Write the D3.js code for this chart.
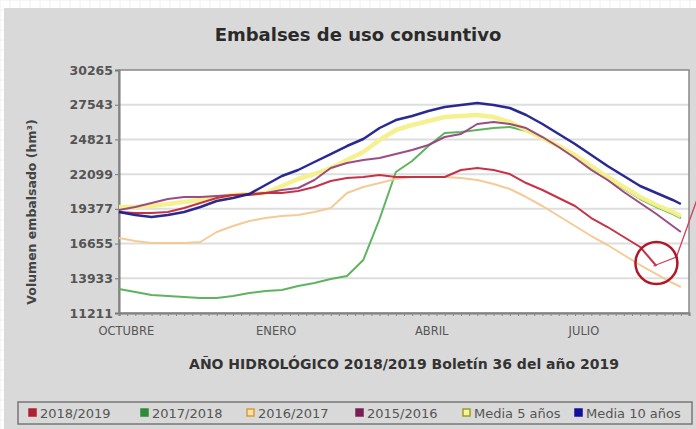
<!DOCTYPE html>
<html>
<head>
<meta charset="utf-8">
<script src="https://cdn.jsdelivr.net/npm/d3@7"></script>
<style>
  body { margin: 0; background: #fff; }
  text { font-family: "DejaVu Sans", Verdana, sans-serif; }
</style>
</head>
<body>
<svg id="chart" width="696" height="429"></svg>
<script>
// semanas del año hidrológico (índice en el eje x)
const semanas = [0,2,4,6,8,10,12,14,16,18,20,22,24,26,28,30,32,34,36,38,40,42,44,46,48,50,52,54,56,58,60,62,64,66,68,69];

const yTicks = [11211, 13933, 16655, 19377, 22099, 24821, 27543, 30265];
const meses = ["OCTUBRE", "ENERO", "ABRIL", "JULIO"];
const mesPos = [0.9, 19.3, 38.4, 57.1];

const s2018 = [19130,19052,19052,19130,19444,19836,20228,20463,20542,20620,20620,20777,21091,21561,21797,21875,22032,21875,21875,21875,21875,22424,22581,22424,22110,21404,20855,20228,19601,18660,17954,17170,16386,14896];
const s2017 = [13093,12858,12622,12544,12466,12387,12387,12544,12779,12936,13015,13328,13563,13877,14112,15367,18582,22267,23129,24305,25325,25403,25560,25717,25795,25482,24933,24227,23443,22581,21718,20934,20150,19523,18974,18660];
const s2016 = [17092,16856,16700,16700,16700,16778,17562,18033,18425,18660,18817,18895,19130,19444,20620,21091,21404,21718,21875,21875,21875,21797,21640,21326,20934,20306,19601,18817,18033,17248,16543,15759,14974,14269,13563,13250];
const s2015 = [19287,19523,19836,20150,20307,20307,20385,20463,20463,20620,20855,21012,21639,22581,22973,23208,23365,23678,23992,24384,25011,25246,26030,26187,26030,25717,25011,24227,23365,22424,21639,20698,19836,18974,18033,17562];
const media5 = [19523,19523,19601,19758,19915,20072,20228,20463,20542,20620,21169,21718,22110,22581,23208,23835,24776,25560,25952,26266,26580,26658,26736,26580,26187,25560,24933,24305,23599,22737,21874,21091,20306,19679,19130,18817];
const media10 = [19130,18895,18738,18895,19130,19523,19993,20228,20542,21247,21953,22424,23051,23678,24305,24854,25717,26344,26658,27050,27364,27521,27677,27521,27285,26736,26030,25246,24462,23599,22737,21953,21169,20620,20072,19758];

const series = [
  { name: "2018/2019", values: s2018, color: "#c3283e", width: 2, box: "#b02035", fill: "#b02035" },
  { name: "2017/2018", values: s2017, color: "#55b055", width: 2, box: "#2f8a3a", fill: "#2f8a3a" },
  { name: "2016/2017", values: s2016, color: "#f3c890", width: 2, box: "#e09a30", fill: "#f6e2b0" },
  { name: "2015/2016", values: s2015, color: "#96427e", width: 2, box: "#7a1f55", fill: "#7a1f55" },
  { name: "Media 5 años", values: media5, color: "#f4f08a", width: 4.5, box: "#98a020", fill: "#f4f4a0" },
  { name: "Media 10 años", values: media10, color: "#1e1e8c", width: 2.5, box: "#10109a", fill: "#10109a" }
];
// el amarillo va debajo
const drawOrder = [1, 4, 2, 3, 0, 5];
const legendX = [29, 141, 247, 356, 463, 575];

let svg = d3.select("#chart");

// fondo con cuadrícula tenue
let bg = svg.append("g");
bg.append("rect").attr("width", 696).attr("height", 429).attr("fill", "#fff");
for (let i = 0; i < 70; i++) {
    bg.append("line").attr("x1", i * 10).attr("x2", i * 10).attr("y1", 0).attr("y2", 429)
        .attr("stroke", "#f0f0f0").attr("stroke-width", 1);
}
for (let j = 0; j < 43; j++) {
    bg.append("line").attr("x1", 0).attr("x2", 696).attr("y1", j * 10).attr("y2", j * 10)
        .attr("stroke", "#f0f0f0").attr("stroke-width", 1);
}

// panel gris
svg.append("rect").attr("x", 4).attr("y", 8).attr("width", 700).attr("height", 430).attr("fill", "#d9d9d9");

let plotL = 119, plotR = 689, plotT = 70, plotB = 313;

let x = d3.scaleLinear().domain([0, 70]).range([plotL, plotR]);
let y = d3.scaleLinear().domain([11211, 30265]).range([plotB, plotT]);

svg.append("rect").attr("x", plotL).attr("y", plotT).attr("width", plotR - plotL).attr("height", plotB - plotT)
    .attr("fill", "#fff");

// líneas de rejilla
svg.append("g").selectAll("line").data(yTicks.slice(1, -1)).join("line")
    .attr("x1", plotL).attr("x2", plotR)
    .attr("y1", d => y(d)).attr("y2", d => y(d))
    .attr("stroke", "#dedede").attr("stroke-width", 2);

// eje y
let yAxis = svg.append("g").attr("transform", `translate(${plotL},0)`)
    .call(d3.axisLeft(y).tickValues(yTicks).tickFormat(d3.format("d")).tickSize(4).tickPadding(2));
yAxis.select(".domain").attr("stroke", "#777").attr("stroke-width", 2);
yAxis.selectAll(".tick line").attr("stroke", "#777");
yAxis.selectAll("text").attr("fill", "#555").attr("font-size", 12.5).attr("font-weight", "bold");

// eje x con marcas pequeñas
let xAxis = svg.append("g").attr("transform", `translate(0,${plotB})`)
    .call(d3.axisBottom(x).tickValues(d3.range(0, 71)).tickFormat("").tickSize(3));
xAxis.select(".domain").attr("stroke", "#777").attr("stroke-width", 2);
xAxis.selectAll(".tick line").attr("stroke", "#888");

svg.append("g").selectAll("text").data(meses).join("text")
    .attr("x", (d, i) => x(mesPos[i]))
    .attr("y", 335)
    .attr("text-anchor", "middle")
    .attr("font-size", 11.5)
    .attr("fill", "#555")
    .text(d => d);

// borde del área de trazado
svg.append("rect").attr("x", plotL).attr("y", plotT).attr("width", plotR - plotL).attr("height", plotB - plotT)
    .attr("fill", "none").attr("stroke", "#888").attr("stroke-width", 1.5);

// series
let line = d3.line()
    .x((d, i) => x(semanas[i]))
    .y(d => y(d));

drawOrder.forEach(k => {
    let s = series[k];
    svg.append("path")
        .attr("d", line(s.values))
        .attr("fill", "none")
        .attr("stroke", s.color)
        .attr("stroke-width", s.width)
        .attr("stroke-linejoin", "round")
        .attr("opacity", 0.95);
});

// círculo rojo sobre el último dato
let ultimo = s2018.length - 1;
let cx = x(semanas[ultimo]), cy = y(s2018[ultimo]) - 3;
svg.append("path")
    .attr("d", `M${cx - 3},${cy + 3} L${cx + 20},${cy - 6} L${cx + 50},${cy - 90}`)
    .attr("fill", "none").attr("stroke", "#d04058").attr("stroke-width", 1.3);
svg.append("circle").attr("cx", cx).attr("cy", cy).attr("r", 21)
    .attr("fill", "none").attr("stroke", "#b01828").attr("stroke-width", 2.5);

// títulos
svg.append("text").attr("x", 358).attr("y", 41).attr("text-anchor", "middle")
    .attr("font-size", 18).attr("fill", "#2a2a2a").attr("font-weight", "bold")
    .text("Embalses de uso consuntivo");

svg.append("text")
    .attr("transform", "translate(36,212) rotate(-90)")
    .attr("text-anchor", "middle")
    .attr("font-size", 12.5).attr("font-weight", "bold").attr("fill", "#444")
    .text("Volumen embalsado (hm³)");

svg.append("text").attr("x", 404).attr("y", 369).attr("text-anchor", "middle")
    .attr("font-size", 14).attr("font-weight", "bold").attr("fill", "#333")
    .text("AÑO HIDROLÓGICO 2018/2019 Boletín 36 del año 2019");

// leyenda
svg.append("rect").attr("x", 18).attr("y", 402).attr("width", 674).attr("height", 22)
    .attr("fill", "none").attr("stroke", "#777").attr("stroke-width", 1.5);

series.forEach((s, i) => {
    let lx = legendX[i];
    svg.append("rect").attr("x", lx).attr("y", 409).attr("width", 7).attr("height", 7)
        .attr("fill", s.fill).attr("stroke", s.box).attr("stroke-width", 1.5);
    svg.append("text").attr("x", lx + 11).attr("y", 418)
        .attr("font-size", 13).attr("fill", "#555").text(s.name);
});
</script>
</body>
</html>
